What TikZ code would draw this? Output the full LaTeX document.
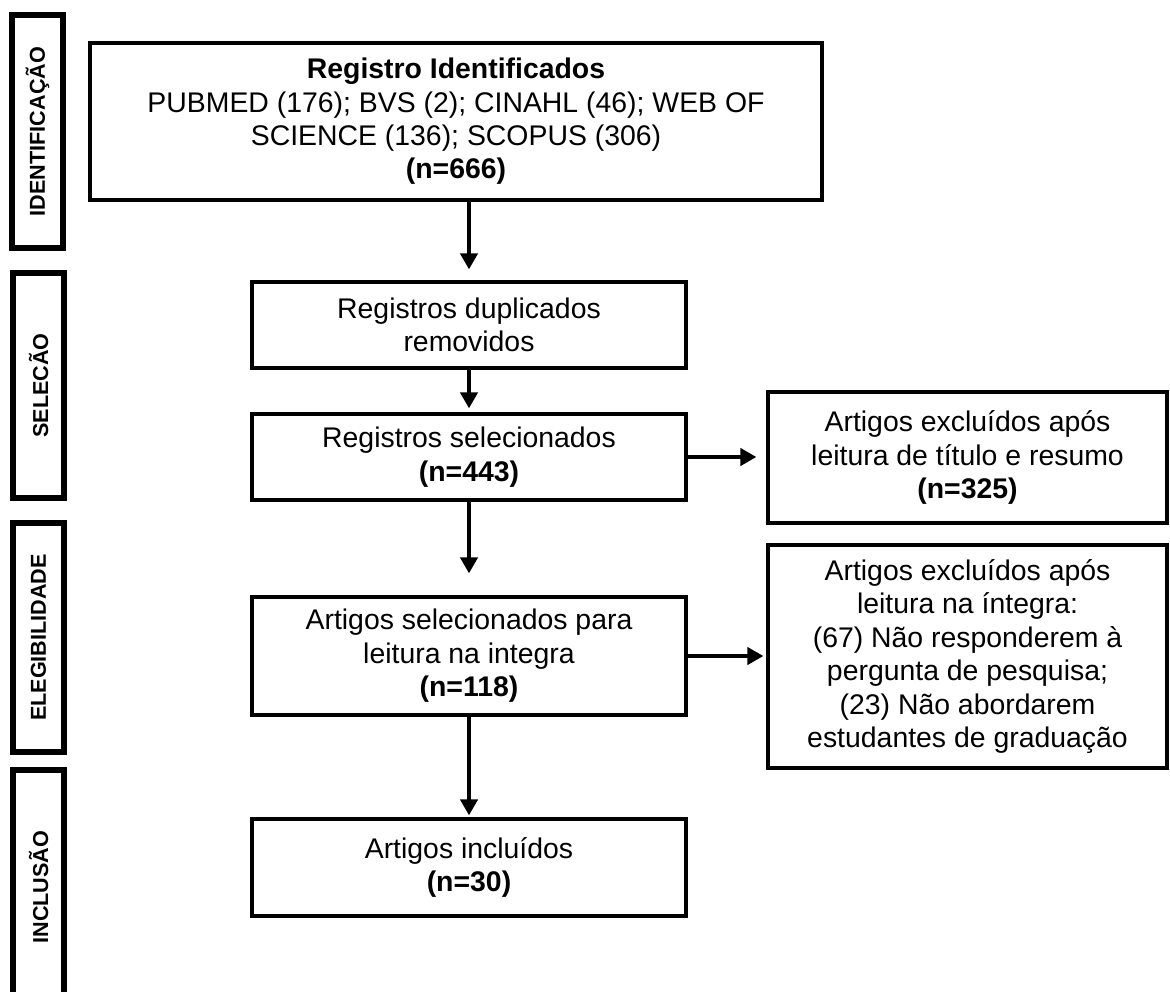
\documentclass[tikz,border=0pt]{standalone}
\usepackage{fontspec}
\setmainfont{Liberation Sans}
\usetikzlibrary{positioning, arrows.meta}
\tikzset{
	stagebox/.style={
			draw=black,
			line width=1.6pt,
			fill=white,
			align=center,
			inner sep=0pt,
			font=\fontsize{14.2}{16.7}\selectfont
		},
	phasebox/.style={
			draw=black,
			line width=2.8pt,
			fill=white,
			rotate=90,
			minimum height=25.5pt,
			inner sep=0pt,
			font=\bfseries\fontsize{10.8}{12}\selectfont
		},
	flowarrow/.style={
			line width=2pt,
			-{Triangle[width=8.5pt,length=8pt]}
		}
}

\begin{document}
\begin{tikzpicture}[x=0.5pt, y=-0.5pt]
\useasboundingbox (0,0) rectangle (1170,991);
% phases on the left
\node[phasebox, minimum width=116.5pt] (p1) at (37.5,131.5) {IDENTIFICAÇÃO};
\node[phasebox, minimum width=112.5pt] (p2) at (38.5,385.5) {SELECÃO};
\node[phasebox, minimum width=114.5pt] (p3) at (38.5,637.5) {ELEGIBILIDADE};
\node[phasebox, minimum width=117pt] (p4) at (38.5,887) {INCLUSÃO};

% main flow
\node[stagebox, minimum width=366pt, minimum height=78.5pt] (n1) at (456,121.5)
  {\textbf{Registro Identificados}\\
   PUBMED (176); BVS (2); CINAHL (46); WEB OF\\
   SCIENCE (136); SCOPUS (306)\\
   \textbf{(n=666)}};
\node[stagebox, minimum width=217pt, minimum height=43pt] (n2) at (469,325)
  {Registros duplicados\\ removidos};
\node[stagebox, minimum width=217pt, minimum height=43pt] (n3) at (469,457)
  {Registros selecionados\\ \textbf{(n=443)}};
\node[stagebox, minimum width=217pt, minimum height=59pt] (n4) at (469,656)
  {Artigos selecionados para\\ leitura na integra\\ \textbf{(n=118)}};
\node[stagebox, minimum width=217pt, minimum height=48.5pt] (n5) at (469,867.5)
  {Artigos incluídos\\ \textbf{(n=30)}};

% excluded
\node[stagebox, minimum width=199.5pt, minimum height=65.5pt] (e1) at (967.5,457.5)
  {Artigos excluídos após\\ leitura de título e resumo\\ \textbf{(n=325)}};
\node[stagebox, minimum width=199.5pt, minimum height=111.5pt] (e2) at (967.5,656.5)
  {Artigos excluídos após\\ leitura na íntegra:\\ (67) Não responderem à\\ pergunta de pesquisa;\\ (23) Não abordarem\\ estudantes de graduação};

\draw[flowarrow, shorten >=5.5pt] (n1.south -| n2.north) -- (n2.north);
\draw[flowarrow, shorten >=2pt] (n2) -- (n3);
\draw[flowarrow, shorten >=11pt] (n3) -- (n4);
\draw[flowarrow, shorten >=1pt] (n4) -- (n5);

\draw[flowarrow, shorten >=5pt] (n3.east) -- (n3.east -| e1.west);
\draw[flowarrow, shorten >=1.5pt] (n4.east) -- (n4.east -| e2.west);
\end{tikzpicture}
\end{document}
